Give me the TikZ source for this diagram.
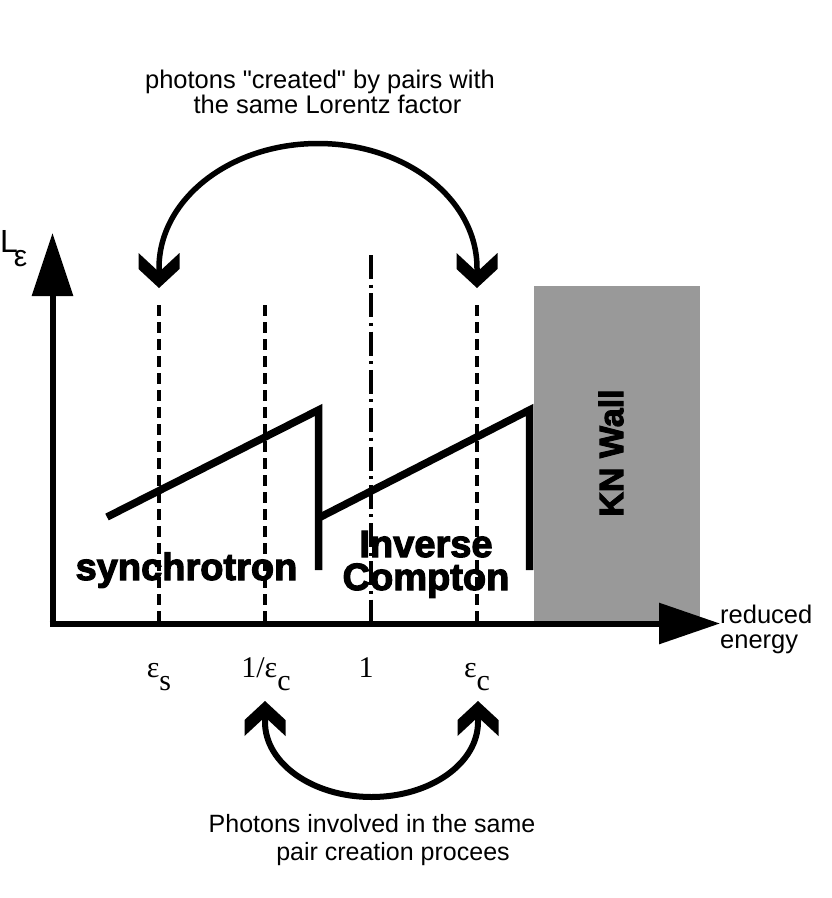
\documentclass[tikz,border=0pt]{standalone}
\usepackage{fontspec}
\setmainfont{Liberation Sans}
\newfontfamily\serifface{Liberation Serif}
\newfontfamily\heavy{Liberation Sans Bold}[FakeBold=3]
\newcommand\straightdq{\XeTeXglyph\XeTeXcharglyph"22\relax}
\usetikzlibrary{arrows.meta,calc}
\definecolor{wallgray}{RGB}{153,153,153}
\tikzset{
  axisline/.style={line width=6pt},
  guide/.style={line width=4.5pt, dash pattern=on 11pt off 6pt},
  guidedot/.style={line width=4.5pt, dash pattern=on 24pt off 5.5pt on 3pt off 5.8pt},
  saw/.style={line width=7.5pt, line join=miter, miter limit=20},
  arcline/.style={line width=5.5pt},
  ticklab/.style={font=\serifface\fontsize{30}{30}\selectfont, anchor=base, inner sep=0pt},
  note/.style={font=\fontsize{25.5}{25}\selectfont, anchor=base, inner sep=0pt},
  big/.style={font=\heavy\fontsize{38}{33}\selectfont, anchor=base, inner sep=0pt},
  chev/.pic={\fill (0,0) -- (20.5,-19) -- (20.5,-35) -- (0,-16) -- (-20.5,-35) -- (-20.5,-19) -- cycle;}
}
\begin{document}
\begin{tikzpicture}[x=1pt,y=-1pt]
\path[use as bounding box] (0,0) rectangle (831,898);

% KN wall
\node[fill=wallgray, minimum width=166pt, minimum height=337.5pt, inner sep=0pt, anchor=north west] (wall) at (534,286) {};
\node[big, font=\heavy\fontsize{34}{34}\selectfont, anchor=center, rotate=90] (kn) at (611,453) {KN Wall};

% guide lines
\coordinate (gsT) at (159,305);  \coordinate (gsB) at (159,623.5);
\coordinate (gcT) at (265,305);  \coordinate (gcB) at (265,623.5);
\coordinate (g1T) at (371,255);  \coordinate (g1B) at (371,623.5);
\coordinate (geT) at (477,305);  \coordinate (geB) at (477,623.5);
\draw[guide] (gsT) -- (gsB);
\draw[guide] (gcT) -- (gcB);
\draw[guidedot] (g1T) -- (g1B);
\draw[guide] (geT) -- (geB);

% region labels
\node[big] (syn) at (186.5,580) {synchrotron};
\node[big, align=center] (ic) at (426,590) {Inverse\\Compton};

% sawtooth spectra
\coordinate (s1a) at (107,517); \coordinate (s1b) at (318.5,410); \coordinate (s1c) at (318.5,570);
\coordinate (s2a) at (318.5,518); \coordinate (s2b) at (529.5,410); \coordinate (s2c) at (529.5,570);
\draw[saw] (s1a) -- (s1b) -- (s1c);
\draw[saw] (s2a) -- (s2b) -- (s2c);

% axes
\coordinate (O) at (52.5,623.5);
\coordinate (Ytip) at (52.5,233);
\coordinate (Xtip) at (720,623.5);
\draw[axisline, -{Triangle[length=63pt,width=40pt]}] ($(O)+(0,3)$) -- (Ytip);
\draw[axisline, -{Triangle[length=61pt,width=40pt]}] ($(O)+(-3,0)$) -- (Xtip);

\node[anchor=base west, inner sep=0pt, font=\fontsize{32}{32}\selectfont] (Lab) at (0,252) {L\kern-4pt\raisebox{-14pt}{\fontsize{30}{30}\selectfont ε}};

\node[note, anchor=base west] (red) at (720,623) {reduced};
\node[note, anchor=base west] (en) at (720,648) {energy};

% tick labels
\node[ticklab] (ls) at (159,677) {ε\raisebox{-13pt}{s}};
\node[ticklab] (lc) at (266,677) {1/ε\raisebox{-13pt}{c}};
\node[ticklab] (l1) at (366,677) {1};
\node[ticklab] (le) at (477,677) {ε\raisebox{-13pt}{c}};

% top annotation
\node[note] (top1) at (320,88) {photons \straightdq created\straightdq{} by pairs with};
\node[note] (top2) at (327.5,113) {the same Lorentz factor};

\coordinate (TL) at (159,288);
\coordinate (TR) at (477,288);
\draw[arcline] ($(TL)+(0,-10)$) -- (159,268) .. controls (159,199.2) and (230.2,143.5) .. (318,143.5) .. controls (405.8,143.5) and (477,199.2) .. (477,268) -- ($(TR)+(0,-10)$);
\pic at (TL) {chev};
\pic at (TR) {chev};

% bottom annotation
\coordinate (BL) at (265,701);
\coordinate (BR) at (478,701);
\draw[arcline, line width=6pt] ($(BL)+(0,10)$) -- (265,722) .. controls (265,763.4) and (312.7,797) .. (371.5,797) .. controls (430.3,797) and (478,763.4) .. (478,722) -- ($(BR)+(0,10)$);
\pic[rotate=180] at (BL) {chev};
\pic[rotate=180] at (BR) {chev};

\node[note, font=\fontsize{25}{25}\selectfont] (bot1) at (372,832) {Photons involved in the same};
\node[note, font=\fontsize{25}{25}\selectfont] (bot2) at (393,860) {pair creation procees};
\end{tikzpicture}
\end{document}
